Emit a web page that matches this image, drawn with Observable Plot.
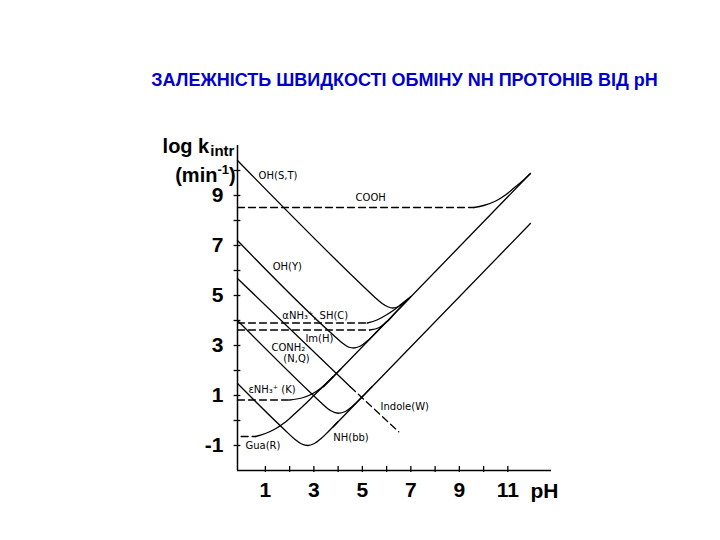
<!DOCTYPE html>
<html>
<head>
<meta charset="utf-8">
<script src="https://cdn.jsdelivr.net/npm/d3@7"></script>
<script src="https://cdn.jsdelivr.net/npm/@observablehq/plot@0.6"></script>
<style>
  html, body { margin: 0; padding: 0; background: #fff; }
  #title {
    width: 720px; height: 100px; box-sizing: border-box;
    padding-top: 69px; padding-left: 89px;
    text-align: center;
    font-family: "Liberation Sans", Arial, sans-serif;
    font-weight: bold; font-size: 18px; line-height: 22px;
    color: #0000cc;
  }
</style>
</head>
<body>
<div id="title">ЗАЛЕЖНІСТЬ ШВИДКОСТІ ОБМІНУ NH ПРОТОНІВ ВІД pH</div>
<div id="chart"></div>
<script>
// ---- data: [pH, log k_intr] ----
const ohST      = [[-0.15,10.4],[5.0,5.4],[5.5,4.94],[5.8,4.69],[6.05,4.55],[6.25,4.5],[6.45,4.54],[6.7,4.7],[7.0,4.96]];
const coohDash  = [[-0.15,8.52],[9.6,8.52]];
const coohSolid = [[9.6,8.52],[10.0,8.6],[10.5,8.78],[10.9,9.02],[11.25,9.3],[11.6,9.58],[11.93,9.88]];
const ohY       = [[-0.15,7.2],[3.8,3.42],[4.2,3.08],[4.45,2.93],[4.65,2.9],[4.9,2.97],[5.2,3.18],[5.6,3.56],[6.0,3.96]];
const aNH3Dash  = [[-0.15,3.9],[5.2,3.9]];
const aNH3Solid = [[5.2,3.9],[5.6,4.02],[5.95,4.2],[6.3,4.42],[6.6,4.65],[6.9,4.88]];
const imHDash   = [[-0.15,3.62],[5.3,3.62]];
const imHSolid  = [[5.3,3.62],[5.7,3.72],[6.05,3.98],[6.35,4.3],[6.65,4.6],[6.95,4.9]];
const indoleSolid = [[-0.15,5.68],[4.5,1.35]];
const indoleDash  = [[4.5,1.35],[6.5,-0.45]];
const conh2     = [[-0.15,4.0],[2.8,1.17],[3.3,0.71],[3.7,0.39],[4.0,0.29],[4.3,0.36],[4.6,0.58],[5.0,0.96],[5.4,1.36]];
const eNH3Dash  = [[-0.15,0.82],[2.0,0.82]];
const eNH3Solid = [[2.0,0.82],[2.5,0.9],[2.9,1.05],[3.3,1.3],[3.7,1.66],[4.1,2.05]];
const guaDash   = [[0.0,-0.64],[0.6,-0.64]];
const guaSolid  = [[0.6,-0.64],[1.0,-0.52],[1.4,-0.34],[1.8,-0.08],[2.2,0.26],[2.6,0.62],[3.0,1.0],[3.4,1.38],[3.8,1.76]];
const nhbb      = [[-0.15,1.48],[1.8,-0.38],[2.2,-0.74],[2.5,-0.94],[2.75,-1.0],[3.0,-0.93],[3.3,-0.72],[3.6,-0.44],[4.0,-0.04]];
const baseUpper = [[3.4,1.35],[11.93,9.88]];
const baseLower = [[3.8,-0.25],[11.93,7.88]];

// curve labels
const labelText = ["OH(S,T)","COOH","OH(Y)","αNH₃⁺, SH(C)","Im(H)","CONH₂","(N,Q)","εNH₃⁺ (K)","Gua(R)","NH(bb)","Indole(W)"];
const labelPH   = [0.72, 4.72, 1.3, 1.7, 2.65, 1.25, 1.74, 0.3, 0.18, 3.8, 5.75];
const labelK    = [9.8, 8.92, 6.16, 4.2, 3.28, 2.92, 2.48, 1.24, -1.0, -0.68, 0.56];

// axis titles and ticks
const yTitle1 = "log k";
const yTitle1Sub = "intr";
const yTitle2 = "(min";
const yTitle2Sup = "-1";
const xTitle = "pH";
const xTicks  = [1,2,3,4,5,6,7,8,9,10,11];
const xLabels = [1,3,5,7,9,11];
const yTicks  = [-1,0,1,2,3,4,5,6,7,8,9,10];
const yLabels = [9,7,5,3,1,-1];
const xDomain = [-0.15, 12.8];
const yDomain = [-2, 11];

const rows = (name, pts) => pts.map(([pH, k]) => ({name, pH, k}));
const solid = [
  ...rows("ohST", ohST), ...rows("coohS", coohSolid), ...rows("ohY", ohY),
  ...rows("aNH3S", aNH3Solid), ...rows("imHS", imHSolid), ...rows("indoleS", indoleSolid),
  ...rows("conh2", conh2), ...rows("eNH3S", eNH3Solid), ...rows("guaS", guaSolid),
  ...rows("nhbb", nhbb), ...rows("L1", baseUpper), ...rows("L2", baseLower)
];
const dashed = [
  ...rows("coohD", coohDash), ...rows("aNH3D", aNH3Dash), ...rows("imHD", imHDash),
  ...rows("indoleD", indoleDash), ...rows("eNH3D", eNH3Dash), ...rows("guaD", guaDash)
];
const labels = labelText.map((t, i) => ({t, pH: labelPH[i], k: labelK[i]}));

const chart = Plot.plot({
  width: 720, height: 440,
  marginLeft: 237, marginRight: 169, marginTop: 45, marginBottom: 70,
  x: {domain: xDomain},
  y: {domain: yDomain},
  style: {fontFamily: "'Liberation Sans', Arial, sans-serif", color: "#000", background: "#fff", overflow: "visible"},
  marks: [
    Plot.ruleX([xDomain[0]], {stroke: "#000", strokeWidth: 1.5}),
    Plot.ruleY([yDomain[0]], {stroke: "#000", strokeWidth: 1.5}),
    Plot.ruleY(yTicks, {y: d => d, x1: -0.29, x2: -0.01, stroke: "#000", strokeWidth: 1.3}),
    Plot.ruleX(xTicks, {x: d => d, y1: -2.08, y2: -1.84, stroke: "#000", strokeWidth: 1.3}),
    Plot.axisY(yLabels, {anchor: "left", tickSize: 0, tickPadding: 14, fontSize: 21, fontWeight: "bold", tickFormat: d => String(d), label: null}),
    Plot.axisX(xLabels, {anchor: "bottom", tickSize: 0, tickPadding: 12, fontSize: 21, fontWeight: "bold", tickFormat: d => String(d), label: null}),
    Plot.line(solid, {x: "pH", y: "k", z: "name", curve: "monotone-x", stroke: "#000", strokeWidth: 1.3}),
    Plot.line(dashed, {x: "pH", y: "k", z: "name", curve: "linear", stroke: "#000", strokeWidth: 1.3, strokeDasharray: "7,4"}),
    Plot.text(labels, {x: "pH", y: "k", text: "t", textAnchor: "start", fontSize: 10, fontFamily: "'DejaVu Sans', sans-serif", fill: "#000"}),
    Plot.text([yTitle1], {x: -3.24, y: 10.96, textAnchor: "start", fontSize: 20, fontWeight: "bold", fill: "#000"}),
    Plot.text([yTitle2], {x: -2.72, y: 9.8, textAnchor: "start", fontSize: 20, fontWeight: "bold", fill: "#000"}),
    Plot.text([xTitle], {x: 11.93, y: -2.82, textAnchor: "start", fontSize: 21, fontWeight: "bold", fill: "#000"})
  ]
});
document.getElementById("chart").appendChild(chart);

// subscript "intr" and superscript "-1" as real tspans in the axis titles
d3.select(chart).selectAll("text").each(function () {
  const t = d3.select(this);
  if (this.textContent === yTitle1) {
    t.append("tspan").attr("font-size", 15).attr("dx", 1).attr("dy", 3).text(yTitle1Sub);
  } else if (this.textContent === yTitle2) {
    t.append("tspan").attr("font-size", 13).attr("dy", -8).text(yTitle2Sup);
    t.append("tspan").attr("dy", 8).text(")");
  }
});
</script>
</body>
</html>
